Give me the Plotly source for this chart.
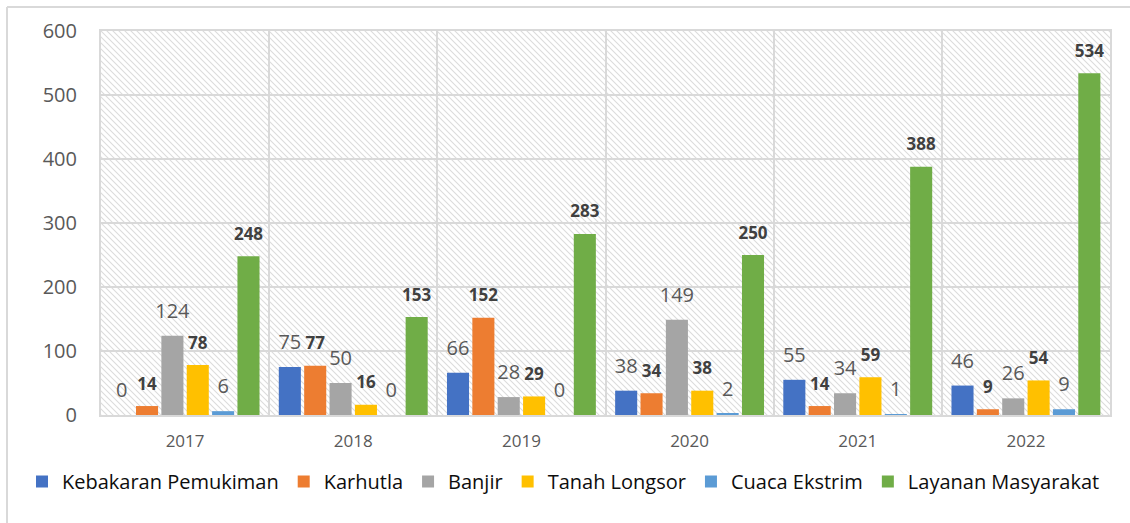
import base64
import plotly.graph_objects as go

# ---------------- data ----------------
years = ["2017", "2018", "2019", "2020", "2021", "2022"]
series_names = ["Kebakaran Pemukiman", "Karhutla", "Banjir", "Tanah Longsor",
                "Cuaca Ekstrim", "Layanan Masyarakat"]
kebakaran = [0, 75, 66, 38, 55, 46]
karhutla = [14, 77, 152, 34, 14, 9]
banjir = [124, 50, 28, 149, 34, 26]
longsor = [78, 16, 29, 38, 59, 54]
cuaca = [6, 0, 0, 2, 1, 9]
layanan = [248, 153, 283, 250, 388, 534]
y_ticks = [0, 100, 200, 300, 400, 500, 600]

# ---------------- style ----------------
W, H = 1130, 523
ML, MR, MT, MB = 101, 20, 31, 108
colors = ["#4472C4", "#ED7D31", "#A5A5A5", "#FFC000", "#5B9BD5", "#70AD47"]
bold = [False, True, False, True, False, True]
FONT = "Open Sans"
values = [kebakaran, karhutla, banjir, longsor, cuaca, layanan]

fig = go.Figure()
for i, (name, vals) in enumerate(zip(series_names, values)):
    fig.add_trace(go.Bar(
        x=years, y=vals, name=name, marker_color=colors[i],
        marker_line_width=0, offsetgroup=str(i), hoverinfo="skip",
    ))
for i, (name, vals) in enumerate(zip(series_names, values)):
    fig.add_trace(go.Scatter(
        x=years, y=vals, mode="markers+text",
        text=[f"<b>{v}</b>" if bold[i] else str(v) for v in vals],
        textposition="top center",
        textfont=dict(family=FONT, size=17 if bold[i] else 20,
                      color="#404040" if bold[i] else "#595959"),
        marker=dict(size=18 if bold[i] else 19, color="rgba(0,0,0,0)"),
        offsetgroup=str(i), orientation="v", showlegend=False,
        hoverinfo="skip", cliponaxis=False,
    ))

# hatched plot background as an svg image
pw, ph = W - ML - MR, H - MT - MB
svg = (f"<svg xmlns='http://www.w3.org/2000/svg' width='{pw}' height='{ph}'>"
       "<defs><pattern id='p' width='6' height='6' patternUnits='userSpaceOnUse'>"
       "<path d='M-1,-1 L7,7 M-1,5 L1,7 M5,-1 L7,1' stroke='#DCDCDC' stroke-width='1.1'/>"
       "</pattern></defs>"
       f"<rect width='{pw}' height='{ph}' fill='white'/>"
       f"<rect width='{pw}' height='{ph}' fill='url(#p)'/></svg>")
src = "data:image/svg+xml;base64," + base64.b64encode(svg.encode()).decode()


def px_x(p):
    return (p - ML) / pw


def px_y(p):
    return 1 - (p - MT) / ph


fig.update_layout(
    width=W, height=H,
    margin=dict(l=ML, r=MR, t=MT, b=MB),
    paper_bgcolor="white", plot_bgcolor="rgba(0,0,0,0)",
    barmode="group", bargap=0.095, bargroupgap=0.13,
    scattermode="group", scattergap=0.095,
    font=dict(family=FONT, color="#595959"),
    images=[dict(source=src, xref="paper", yref="paper", x=0, y=1,
                 sizex=1, sizey=1, xanchor="left", yanchor="top",
                 sizing="stretch", layer="below")],
    xaxis=dict(type="category", tickson="boundaries", showgrid=True,
               gridcolor="#D9D9D9", gridwidth=2, ticks="",
               showline=True, linecolor="#D9D9D9", linewidth=2, mirror=True,
               tickfont=dict(size=17, color="#595959"), ticklabelstandoff=10),
    yaxis=dict(range=[0, 600], tickvals=y_ticks, showgrid=True,
               gridcolor="#D9D9D9", gridwidth=2, zeroline=False, ticks="",
               showline=True, linecolor="#D9D9D9", linewidth=2, mirror=True,
               tickfont=dict(size=20, color="#595959"), ticklabelstandoff=18),
    legend=dict(orientation="h", xref="paper", yref="paper",
                x=px_x(22), xanchor="left", y=px_y(462), yanchor="top",
                font=dict(size=20, color="#0D0D0D"), itemwidth=30,
                traceorder="normal"),
    shapes=[
        dict(type="line", xref="paper", yref="paper", x0=px_x(7), x1=px_x(W + 5),
             y0=px_y(7), y1=px_y(7), line=dict(color="#D9D9D9", width=2)),
        dict(type="line", xref="paper", yref="paper", x0=px_x(7), x1=px_x(7),
             y0=px_y(7), y1=px_y(H + 5), line=dict(color="#D9D9D9", width=2)),
    ],
    showlegend=True,
)

fig.write_html("out.html", config={"displayModeBar": False},
               post_script="document.body.style.margin='0';")
